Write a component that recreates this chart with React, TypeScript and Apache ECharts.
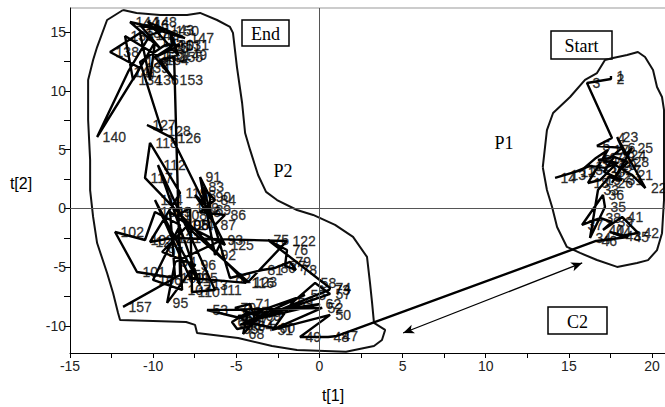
import React, { useEffect, useRef } from "react";
import * as echarts from "echarts";

// Trajectory scores, point i has label i+1
const trajX = [
  17.53, 17.53, 16.09, 17.59, 16.69, 18.2, 17.47, 16.75, 17.96, 17.17,
  16.27, 15.37, 14.77, 14.17, 15.79, 16.63, 17.35, 16.15, 16.87, 17.78,
  18.8, 19.6, 17.9, 18.38, 18.8, 17.59, 18.08, 18.56, 17.71, 17.11,
  18.2, 17.41, 16.75, 16.27, 17.17, 17.05, 15.79, 16.87, 17.59, 17.05,
  18.2, 19.16, 18.08, 17.47, 18.56, 16.63, 1.06, 0.52, -1.17, 0.64,
  -2.85, 0.16, -6.76, -4.77, -0.87, -4.77, 0.64, -0.26, -1.65, -2.73,
  -4.47, 0.04, -4.89, -4.05, -4.95, -5.26, -4.29, -4.59, -3.57, -5.08,
  -4.17, -3.87, 0.58, 0.64, -3.09, -1.95, -2.07, -1.41, -1.77, -2.67,
  -3.45, -5.38, -7.0, -6.28, -7.18, -5.68, -6.28, -7.48, -6.58, -6.58,
  -7.18, -6.28, -5.86, -8.68, -9.16, -7.48, -9.46, -7.9, -8.98, -8.68,
  -10.97, -12.29, -10.49, -9.89, -8.38, -10.01, -8.26, -8.5, -7.78, -7.66,
  -6.28, -9.71, -7.18, -9.89, -7.78, -4.41, -10.49, -10.19, -8.38, -10.19,
  -8.86, -1.95, -4.29, -8.08, -5.68, -8.86, -10.37, -9.47, -10.79, -9.28,
  -8.38, -9.71, -11.69, -11.21, -9.89, -10.19, -10.79, -12.59, -10.79, -13.37,
  -11.51, -10.19, -9.28, -11.39, -9.59, -10.79, -8.08, -10.31, -8.5, -8.98,
  -8.86, -9.89, -8.74, -9.59, -8.74, -8.38, -11.81,
];
const trajY = [
  11.26, 11.0, 10.66, 5.99, 5.31, 5.14, 4.29, 4.12, 3.86, 3.44,
  3.61, 3.1, 2.84, 2.59, 3.27, 4.29, 4.97, 2.16, 2.41, 3.69,
  2.84, 1.73, 6.07, 4.54, 5.14, 2.16, 3.27, 3.95, 4.37, 3.1,
  2.41, 2.67, 1.56, -2.52, 0.12, 1.14, -1.41, -0.82, -1.16, -1.84,
  -0.73, -2.09, -2.35, -2.01, -2.43, -2.77, -10.85, -10.94, -10.94, -9.06,
  -10.34, -8.47, -8.64, -9.32, -7.36, -9.91, -7.28, -6.34, -8.04, -10.17,
  -9.66, -8.13, -9.15, -10.0, -10.26, -9.66, -8.81, -10.68, -9.15, -8.47,
  -8.13, -9.49, -6.94, -6.77, -2.69, -3.54, -4.9, -5.24, -4.56, -5.07,
  -5.24, -5.92, 1.82, 0.71, -0.31, -0.56, -1.41, 1.14, -0.14, 0.97,
  2.67, -3.96, -2.69, -4.56, -8.04, -4.81, -3.71, -1.41, -0.31, -5.92,
  -5.41, -2.01, -2.69, -0.31, -1.41, -6.09, -6.94, -0.56, 0.03, -7.11,
  -6.94, 3.69, -6.51, 0.71, -5.92, -6.34, 2.59, 5.56, 1.31, -2.86,
  -2.52, -2.77, -6.26, -1.41, -3.11, 5.99, 7.09, 6.58, 12.45, 13.89,
  13.89, 12.96, 14.66, 10.92, 14.15, 10.92, 14.91, 13.3, 11.94, 6.07,
  11.6, 14.74, 15.17, 15.85, 13.64, 15.6, 14.49, 15.85, 13.04, 15.08,
  13.81, 12.87, 10.92, 12.62, 12.87, -5.66, -8.38,
];

// Hand-drawn class outlines
const hullP2X = [
  -11.81, -11.0, -9.59, -7.96, -7.18, -6.16, -5.38, -5.2, -4.96, -4.65,
  -4.47, -4.17, -3.69, -3.21, -2.55, -1.35, -0.38, 0.94, 2.02, 2.86,
  3.04, 3.16, 3.28, 3.95, 3.76, 3.28, 1.6, -1.35, -2.85, -4.89,
  -7.36, -7.48, -8.02, -11.99, -12.11, -12.41, -12.77, -13.37, -13.61, -13.79,
  -13.79, -13.91, -13.91, -13.61, -13.37, -12.77, -11.81,
];
const hullP2Y = [
  16.87, 16.62, 16.45, 16.45, 16.62, 16.02, 15.43, 14.92, 12.02, 8.96,
  6.41, 4.97, 2.84, 1.4, 0.71, -0.14, -0.56, -1.41, -2.43, -4.13,
  -6.34, -7.96, -9.74, -10.34, -11.19, -11.7, -12.2, -12.04, -11.7, -11.02,
  -10.6, -9.91, -9.66, -9.49, -8.9, -7.2, -5.5, -2.95, -0.73, 1.56,
  4.12, 7.52, 10.92, 12.62, 13.72, 16.02, 16.87,
];
const hullP1X = [
  13.43, 13.68, 14.05, 15.07, 15.97, 16.69, 17.17, 17.65, 18.5, 19.15,
  19.58, 20.06, 20.3, 20.6, 20.72, 20.72, 20.6, 20.3, 19.76, 19.1,
  17.9, 16.69, 15.67, 14.88, 14.29, 13.99, 13.68, 13.43,
];
const hullP1Y = [
  3.5, 6.65, 8.11, 9.47, 10.92, 11.51, 12.62, 12.79, 13.04, 13.3,
  12.87, 11.77, 10.32, 9.47, 8.37, 0.71, -2.11, -3.55, -4.4, -4.65,
  -4.98, -4.39, -3.79, -3.28, -1.58, 0.12, 1.56, 3.5,
];

// C2 double arrow end points
const arrowFrom = [5.03, -10.6];
const arrowTo = [15.8, -4.64];

const xTicks = [-15, -12.5, -10, -7.5, -5, -2.5, 0, 2.5, 5, 7.5, 10, 12.5, 15, 17.5, 20];
const xLabels = [-15, -10, -5, 0, 5, 10, 15, 20];
const yTicks = [-10, -7.5, -5, -2.5, 0, 2.5, 5, 7.5, 10, 12.5, 15];
const yLabels = [-10, -5, 0, 5, 10, 15];

const SANS = '"Liberation Sans", Arial, Helvetica, sans-serif';
const SERIF = '"Liberation Serif", "Times New Roman", serif';

function boxText(x: number, y: number, w: number, h: number, text: string) {
  return {
    type: "group",
    children: [
      {
        type: "rect",
        shape: { x, y, width: w, height: h },
        style: { fill: "#fff", stroke: "#000", lineWidth: 1.5 },
      },
      {
        type: "text",
        style: {
          text,
          x: x + w / 2,
          y: y + h / 2 + 1,
          font: `18px ${SERIF}`,
          fill: "#000",
          align: "center",
          verticalAlign: "middle",
          textAlign: "center",
          textVerticalAlign: "middle",
        },
      },
    ],
  };
}

function plainText(x: number, y: number, text: string, font: string) {
  return {
    type: "text",
    style: {
      text,
      x,
      y,
      font,
      fill: "#000",
      align: "center",
      verticalAlign: "middle",
      textAlign: "center",
      textVerticalAlign: "middle",
    },
  };
}

export default function App() {
  const ref = useRef<HTMLDivElement>(null);
  useEffect(() => {
    if (!ref.current) return;
    const chart = echarts.init(ref.current, undefined, { renderer: "svg" });
    const traj = trajX.map((x, i) => [x, trajY[i], String(i + 1)]);
    const p2 = hullP2X.map((x, i) => [x, hullP2Y[i]]);
    const p1 = hullP1X.map((x, i) => [x, hullP1Y[i]]);
    const axisCommon = {
      type: "value",
      axisLine: { show: true, onZero: false, lineStyle: { color: "#000", width: 1 } },
      splitLine: { show: false },
    };
    chart.setOption({
      animation: false,
      backgroundColor: "#fff",
      grid: { left: 70, right: 0, top: 8, bottom: 54, containLabel: false },
      xAxis: {
        ...axisCommon,
        min: -15,
        max: 20.78,
        axisTick: { show: true, length: 5, customValues: xTicks, lineStyle: { color: "#000" } },
        axisLabel: { customValues: xLabels, color: "#222", fontSize: 14, fontFamily: SANS, margin: 6 },
      },
      yAxis: {
        ...axisCommon,
        min: -12.3,
        max: 17.04,
        axisTick: { show: true, length: 6, customValues: yTicks, lineStyle: { color: "#000" } },
        axisLabel: { customValues: yLabels, color: "#222", fontSize: 14, fontFamily: SANS, margin: 4 },
      },
      series: [
        {
          type: "line",
          data: p2,
          showSymbol: false,
          symbol: "none",
          lineStyle: { color: "#111", width: 2 },
          silent: true,
          z: 2,
          markLine: {
            silent: true,
            symbol: "none",
            label: { show: false },
            lineStyle: { color: "#555", width: 1, type: "solid" },
            data: [{ xAxis: 0 }, { yAxis: 0 }],
          },
        },
        {
          type: "line",
          data: p1,
          showSymbol: false,
          symbol: "none",
          lineStyle: { color: "#111", width: 2 },
          silent: true,
          z: 2,
          markLine: {
            silent: true,
            symbol: ["arrow", "arrow"],
            symbolSize: [7, 11],
            label: { show: false },
            lineStyle: { color: "#000", width: 1.3, type: "solid" },
            data: [[{ coord: arrowFrom }, { coord: arrowTo }]],
          },
        },
        {
          type: "line",
          data: traj.map((d) => [d[0], d[1]]),
          showSymbol: false,
          symbol: "none",
          lineStyle: { color: "#000", width: 2.4 },
          silent: true,
          z: 3,
        },
        {
          type: "scatter",
          data: traj,
          symbolSize: 1,
          itemStyle: { color: "rgba(0,0,0,0)" },
          silent: true,
          z: 4,
          label: {
            show: true,
            position: "right",
            distance: 5,
            formatter: (p: any) => p.data[2],
            fontSize: 14,
            fontFamily: SANS,
            color: "#000",
            textBorderColor: "#000",
            textBorderWidth: 0.3,
          },
        },
      ],
      graphic: [
        {
          type: "line",
          shape: { x1: 70, y1: 8, x2: 665, y2: 8 },
          style: { stroke: "#999", lineWidth: 1 },
        },
        boxText(242, 20, 47, 26, "End"),
        boxText(551, 31, 61, 28, "Start"),
        boxText(548, 307, 59, 27, "C2"),
        plainText(504, 143, "P1", `18px ${SERIF}`),
        plainText(283, 171, "P2", `18px ${SERIF}`),
        plainText(333, 395, "t[1]", `16px ${SANS}`),
        plainText(21, 183, "t[2]", `16px ${SANS}`),
      ],
    });
    return () => chart.dispose();
  }, []);
  return (
    <div
      ref={ref}
      style={{ position: "fixed", left: 0, top: 0, width: 665, height: 407, background: "#fff" }}
    />
  );
}
